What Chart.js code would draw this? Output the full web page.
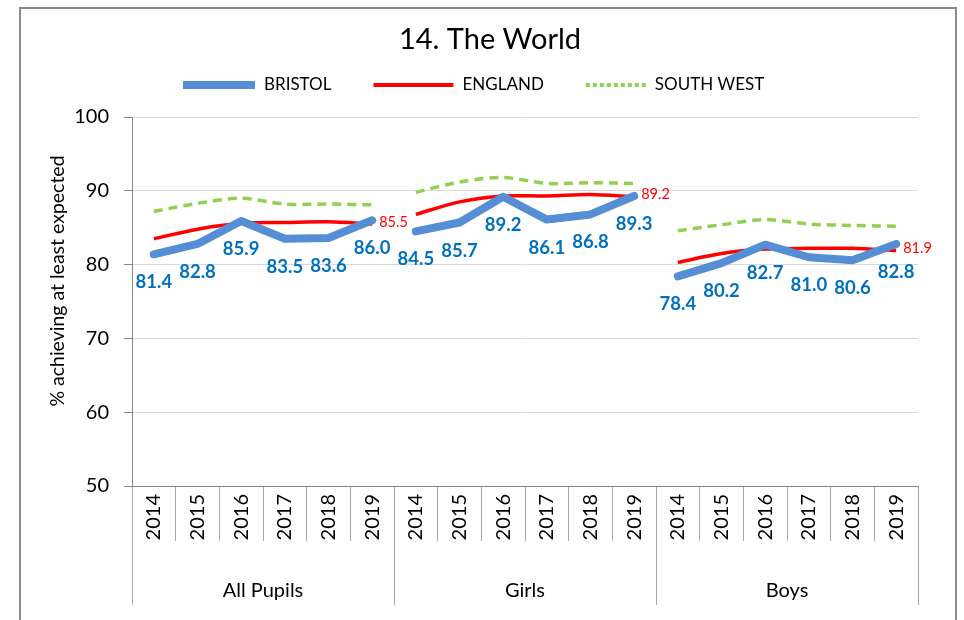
<!DOCTYPE html>
<html><head><meta charset="utf-8">
<script src="https://cdn.jsdelivr.net/npm/chart.js@4.4.1/dist/chart.umd.min.js"></script>
<style>
html,body{margin:0;padding:0;background:#fff;}
#wrap{position:absolute;left:0;top:0;width:964px;height:620px;}
#frame{position:absolute;left:19px;top:7px;width:934px;height:700px;border:2px solid #8a8a8a;pointer-events:none;}
</style></head><body>
<div id="wrap"><canvas id="c" width="964" height="620"></canvas></div>
<div id="frame"></div>
<script>
const years = ['2014','2015','2016','2017','2018','2019'];
const groups = ['All Pupils','Girls','Boys'];
const seriesNames = ['BRISTOL','ENGLAND','SOUTH WEST'];
const bristol = [81.4,82.8,85.9,83.5,83.6,86.0, 84.5,85.7,89.2,86.1,86.8,89.3, 78.4,80.2,82.7,81.0,80.6,82.8];
const england = [83.5,84.8,85.6,85.7,85.8,85.5, 86.8,88.5,89.3,89.3,89.5,89.2, 80.3,81.5,82.1,82.2,82.2,81.9];
const southWest = [87.2,88.3,89.0,88.2,88.2,88.1, 89.8,91.2,91.8,91.0,91.1,91.0, 84.6,85.4,86.1,85.5,85.3,85.2];
const yTicks = [50,60,70,80,90,100];
const chartTitle = '14. The World';
const yTitle = '% achieving at least expected';

const FONT = 'Lato, "Liberation Sans", sans-serif';
const catLabels = [];
groups.forEach(g => years.forEach(y => catLabels.push(y)));
const perGroup = years.length;

const colors = ['#558ED5', '#FF0000', '#92D050'];
const seriesData = [bristol, england, southWest];
const styles = [
  {borderWidth: 8, tension: 0, borderDash: [], borderJoinStyle: 'round', borderCapStyle: 'round'},
  {borderWidth: 3.5, tension: 0.3, borderDash: [], borderJoinStyle: 'round', borderCapStyle: 'butt'},
  {borderWidth: 3.5, tension: 0.3, borderDash: [9, 6], borderJoinStyle: 'round', borderCapStyle: 'butt'}
];

// one dataset per series per group, null outside the group so lines break between groups
const datasets = [];
seriesData.forEach((arr, si) => {
  groups.forEach((g, gi) => {
    datasets.push(Object.assign({
      label: seriesNames[si] + ' ' + g,
      seriesIndex: si,
      data: arr.map((v, i) => Math.floor(i / perGroup) === gi ? v : null),
      borderColor: colors[si],
      pointRadius: 0,
      spanGaps: false
    }, styles[si]));
  });
});

const labelPlugin = {
  id: 'labels',
  afterDatasetsDraw(chart) {
    const ctx = chart.ctx;
    ctx.save();
    ctx.textBaseline = 'middle';
    chart.data.datasets.forEach((ds, di) => {
      const meta = chart.getDatasetMeta(di);
      meta.data.forEach((pt, i) => {
        const v = ds.data[i];
        if (v === null) return;
        if (ds.seriesIndex === 0) {
          ctx.font = 'bold 18.5px ' + FONT;
          ctx.fillStyle = '#0070C0';
          ctx.textAlign = 'center';
          ctx.fillText(v.toFixed(1), pt.x, pt.y + 28);
        } else if (ds.seriesIndex === 1 && i % perGroup === perGroup - 1) {
          ctx.font = '14.5px ' + FONT;
          ctx.fillStyle = '#FF0000';
          ctx.textAlign = 'left';
          ctx.fillText(v.toFixed(1), pt.x + 7, pt.y - 2);
        }
      });
    });
    ctx.restore();
  },
  afterDraw(chart) {
    const ctx = chart.ctx;
    // chart title
    ctx.save();
    ctx.font = '29px ' + FONT;
    ctx.fillStyle = '#000';
    ctx.textAlign = 'center';
    ctx.textBaseline = 'middle';
    ctx.fillText(chartTitle, 490, 40);
    ctx.restore();
    // y axis title
    ctx.save();
    ctx.translate(58, 281);
    ctx.rotate(-Math.PI / 2);
    ctx.font = '19.5px ' + FONT;
    ctx.fillStyle = '#000';
    ctx.textAlign = 'center';
    ctx.textBaseline = 'middle';
    ctx.fillText(yTitle, 0, 0);
    ctx.restore();
    // legend
    ctx.save();
    const samples = [
      {len: 72, w: 8, dash: []},
      {len: 80, w: 4, dash: []},
      {len: 60, w: 4, dash: [4, 3]}
    ];
    ctx.font = '17px ' + FONT;
    ctx.textBaseline = 'middle';
    ctx.textAlign = 'left';
    let x = 183;
    const y = 85;
    seriesNames.forEach((n, i) => {
      const s = samples[i];
      ctx.strokeStyle = colors[i];
      ctx.lineWidth = s.w;
      ctx.setLineDash(s.dash);
      ctx.beginPath();
      ctx.moveTo(x, y);
      ctx.lineTo(x + s.len, y);
      ctx.stroke();
      x += s.len + 9;
      ctx.fillStyle = '#000';
      ctx.fillText(n, x, y);
      x += ctx.measureText(n).width + 42;
    });
    ctx.restore();
  }
};

new Chart(document.getElementById('c'), {
  type: 'line',
  data: {labels: catLabels, datasets: datasets},
  options: {
    responsive: false,
    animation: false,
    devicePixelRatio: 1,
    layout: {padding: {left: 47, right: 46, top: 117, bottom: 0}},
    plugins: {
      legend: {display: false},
      tooltip: {enabled: false},
      title: {display: false}
    },
    scales: {
      x: {
        type: 'category', labels: catLabels, offset: true, weight: 0, position: 'bottom',
        grid: {offset: true, drawOnChartArea: false, tickLength: 55, color: '#a6a6a6'},
        border: {display: true, color: '#868686'},
        ticks: {autoSkip: false, minRotation: 90, maxRotation: 90, padding: -47, color: '#000',
                font: {family: FONT, size: 20}},
        afterFit: s => { s.height = 55; }
      },
      x2: {
        type: 'category', labels: groups, offset: true, weight: 1, position: 'bottom',
        grid: {offset: true, drawOnChartArea: false, tickLength: 64, color: '#a6a6a6'},
        border: {display: false},
        ticks: {autoSkip: false, padding: -26, color: '#000', font: {family: FONT, size: 20}},
        afterFit: s => { s.height = 79; }
      },
      y: {
        min: 50, max: 100,
        afterBuildTicks: s => { s.ticks = yTicks.map(v => ({value: v})); },
        grid: {color: '#d9d9d9', tickLength: 8, tickColor: '#868686'},
        border: {color: '#868686'},
        ticks: {padding: 15, color: '#000', font: {family: FONT, size: 20}},
        afterFit: s => { s.width = 85; }
      }
    }
  },
  plugins: [labelPlugin]
});
</script>
</body></html>
